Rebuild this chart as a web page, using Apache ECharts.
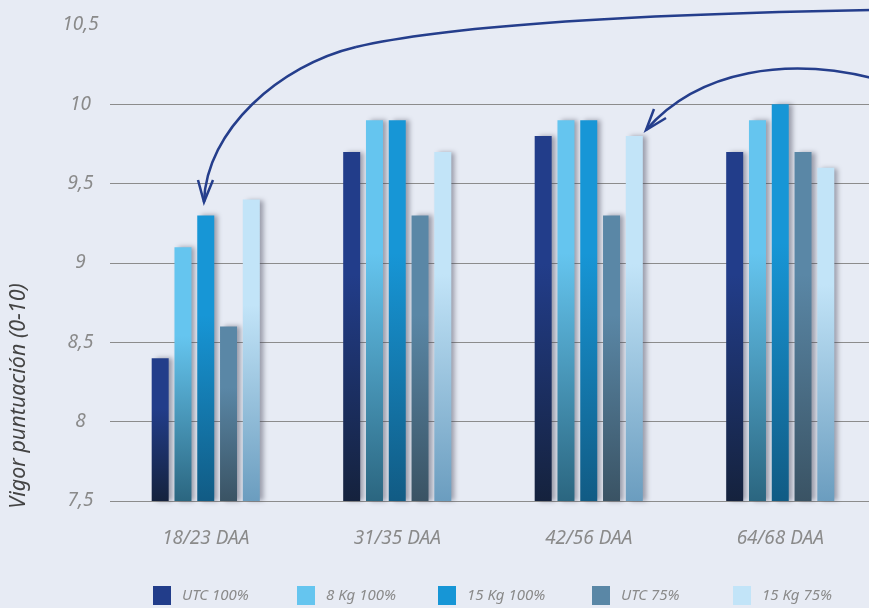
<!DOCTYPE html>
<html>
<head>
<meta charset="utf-8">
<script src="https://cdn.jsdelivr.net/npm/echarts@6/dist/echarts.min.js"></script>
<style>
html,body{margin:0;padding:0;background:#e7ebf4;overflow:hidden;width:869px;height:608px;}
#chart{width:876px;height:608px;}
</style>
</head>
<body>
<div id="chart"></div>
<script>
const categories = ['18/23 DAA', '31/35 DAA', '42/56 DAA', '64/68 DAA'];
const seriesNames = ['UTC 100%', '8 Kg 100%', '15 Kg 100%', 'UTC 75%', '15 Kg 75%'];
const utc100 = [8.4, 9.7, 9.8, 9.7];
const kg8_100 = [9.1, 9.9, 9.9, 9.9];
const kg15_100 = [9.3, 9.9, 9.9, 10.0];
const utc75 = [8.6, 9.3, 9.3, 9.7];
const kg15_75 = [9.4, 9.7, 9.8, 9.6];
const yMin = 7.5, yMax = 10.5, yStep = 0.5;
const yTitle = 'Vigor puntuación (0-10)';

const seriesValues = [utc100, kg8_100, kg15_100, utc75, kg15_75];
const topColors = ['#223d8a', '#65c5ef', '#1796d6', '#5a87a6', '#c2e4f8'];
const bottomColors = ['#15223d', '#2b6680', '#115b84', '#3a5364', '#6b9dbf'];
const legendLefts = [153, 297, 438, 592, 733];
const FONT = "'Noto Sans', sans-serif";
const ARROW = '#253e8c';

const chart = echarts.init(document.getElementById('chart'));

const series = seriesNames.map((name, i) => ({
  name: name,
  type: 'bar',
  data: seriesValues[i],
  barWidth: 17,
  barGap: '34%',
  itemStyle: {
    color: new echarts.graphic.LinearGradient(0, 0, 0, 1, [
      {offset: 0, color: topColors[i]},
      {offset: 0.35, color: topColors[i]},
      {offset: 1, color: bottomColors[i]}
    ]),
    shadowColor: 'rgba(60,60,80,0.45)',
    shadowBlur: 5,
    shadowOffsetX: 4,
    shadowOffsetY: 0
  }
}));

const legends = seriesNames.map((name, i) => ({
  left: legendLefts[i],
  top: 586,
  padding: 0,
  icon: 'rect',
  itemWidth: 18,
  itemHeight: 19,
  selectedMode: false,
  data: [{name: name, itemStyle: {color: topColors[i], shadowBlur: 0, shadowColor: 'transparent'}}],
  textStyle: {color: '#8a8a8a', fontSize: 15, fontStyle: 'italic', fontFamily: FONT, padding: [0, 0, 0, 6]}
}));

const arrowLine = {fill: null, stroke: ARROW, lineWidth: 2.5};

chart.setOption({
  backgroundColor: '#e7ebf4',
  animation: false,
  grid: {left: 110, top: 25, right: 0, bottom: 107, containLabel: false},
  legend: legends,
  xAxis: {
    type: 'category',
    data: categories,
    axisLine: {show: false},
    axisTick: {show: false},
    axisLabel: {color: '#8a8a8a', fontSize: 19, fontStyle: 'italic', fontFamily: FONT, margin: 28}
  },
  yAxis: {
    type: 'value',
    min: yMin,
    max: yMax,
    interval: yStep,
    startValue: yMin,
    axisLine: {show: false},
    axisTick: {show: false},
    axisLabel: {
      color: '#8a8a8a', fontSize: 19, fontStyle: 'italic', fontFamily: FONT,
      align: 'center', margin: 29.5,
      formatter: v => String(v).replace('.', ',')
    },
    splitLine: {show: true, showMaxLine: false, lineStyle: {color: '#8c8c8c', width: 1.2}}
  },
  series: series,
  graphic: [
    {
      type: 'text', x: 19, y: 396, rotation: Math.PI / 2,
      style: {text: yTitle, fill: '#444', fontSize: 21.5, fontStyle: 'italic', fontFamily: FONT, align: 'center', verticalAlign: 'middle'}
    },
    {
      type: 'bezierCurve', z: 100,
      shape: {x1: 872, y1: 10, cpx1: 650, cpy1: 14, cpx2: 450, cpy2: 25, x2: 356, y2: 47},
      style: arrowLine
    },
    {
      type: 'bezierCurve', z: 100,
      shape: {x1: 356, y1: 47, cpx1: 280, cpy1: 65, cpx2: 206, cpy2: 130, x2: 204, y2: 202},
      style: arrowLine
    },
    {
      type: 'polyline', z: 100,
      shape: {points: [[198, 180], [204, 202], [213, 180]]},
      style: arrowLine
    },
    {
      type: 'bezierCurve', z: 100,
      shape: {x1: 872, y1: 78, cpx1: 790, cpy1: 58, cpx2: 700, cpy2: 68, x2: 646, y2: 130},
      style: arrowLine
    },
    {
      type: 'polyline', z: 100,
      shape: {points: [[654, 109], [646, 130], [666, 118]]},
      style: arrowLine
    }
  ]
});
</script>
</body>
</html>
